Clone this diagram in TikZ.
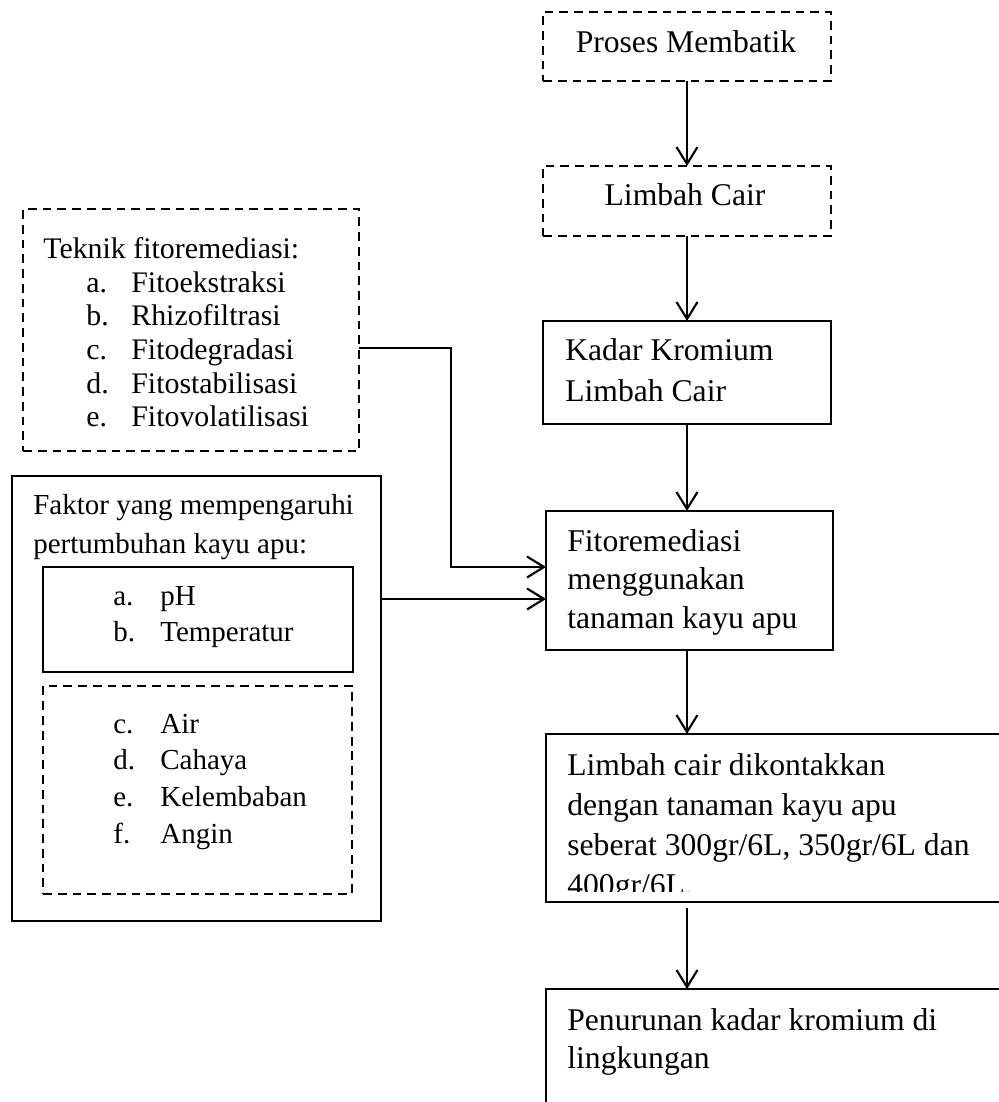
\documentclass[tikz,border=0pt]{standalone}
\usepackage{fontspec}
\setmainfont{Liberation Serif}
\usetikzlibrary{arrows.meta}

\begin{document}
\begin{tikzpicture}[x=0.02cm,y=-0.02cm,
  size/.style 2 args={minimum width=#1*0.02cm,minimum height=#2*0.02cm},
  frame/.style={draw,line width=1.2pt,inner sep=0pt,outer sep=0pt,anchor=north west},
  dashframe/.style={frame,dash pattern=on 5pt off 3.4pt},
  txt/.style={anchor=base west,inner sep=0pt,font=\fontsize{18}{22}\selectfont},
  txtk/.style={txt,font=\fontsize{17}{21}\selectfont},
  txtf/.style={txt,font=\fontsize{16.5}{20}\selectfont},
  arr/.style={line width=1.2pt,-{Straight Barb[length=3.4mm,width=4.2mm,line width=1.2pt]}}]%
  \useasboundingbox (0,0) rectangle (998,1102);

  % right column
  \node[dashframe,size={288}{69}] (proses) at (543,12) {};
  \node[dashframe,size={288}{70}] (limbah) at (543,166) {};
  \node[frame,size={288}{103}] (kadar) at (543,321) {};
  \node[frame,size={287}{139}] (fito) at (546,511) {};
  \node[frame,size={470}{168}] (kontak) at (546,734) {};
  \node[frame,size={470}{140}] (hasil) at (546,989) {};

  \node[txt,anchor=base] (prosesT) at (686,52) {Proses Membatik};
  \node[txt,anchor=base] (limbahT) at (685,205) {Limbah Cair};
  \foreach \t [count=\i] in {Kadar Kromium,Limbah Cair}
    \node[txt] (kadar\i) at (565,{360+41*(\i-1)}) {\t};
  \foreach \t [count=\i] in {Fitoremediasi,menggunakan,tanaman kayu apu}
    \node[txt] (fito\i) at (567,{551+38.5*(\i-1)}) {\t};
  \begin{scope}
    \clip (546,734) rectangle (998,891);
    \foreach \t [count=\i] in {Limbah cair dikontakkan,dengan tanaman kayu apu,
        {seberat 300gr/6L, 350gr/6L dan},400gr/6L.}
      \node[txt] (kontak\i) at (567,{775+40*(\i-1)}) {\t};
  \end{scope}
  \foreach \t [count=\i] in {Penurunan kadar kromium di,lingkungan}
    \node[txt] (hasil\i) at (567,{1030+38*(\i-1)}) {\t};

  % left column
  \node[dashframe,size={336}{242}] (teknik) at (23,209) {};
  \node[txtk] (teknikT) at (43,258) {Teknik fitoremediasi:};
  \foreach \l/\t [count=\i] in {a/Fitoekstraksi,b/Rhizofiltrasi,c/Fitodegradasi,
      d/Fitostabilisasi,e/Fitovolatilisasi} {
    \node[txtk] (teknikL\i) at (86,{292+33.7*(\i-1)}) {\l.};
    \node[txtk] (teknik\i) at (131,{292+33.7*(\i-1)}) {\t};
  }

  \node[frame,size={369}{445}] (faktor) at (12,476) {};
  \node[txtf] (faktor1) at (33,514) {Faktor yang mempengaruhi};
  \node[txtf] (faktor2) at (33,553) {pertumbuhan kayu apu:};
  \node[frame,size={310}{105}] (utama) at (43,567) {};
  \foreach \l/\t [count=\i] in {a/pH,b/Temperatur} {
    \node[txtf] (utamaL\i) at (113,{605+36*(\i-1)}) {\l.};
    \node[txtf] (utama\i) at (160,{605+36*(\i-1)}) {\t};
  }
  \node[dashframe,size={309}{208}] (lain) at (43,686) {};
  \foreach \l/\t [count=\i] in {c/Air,d/Cahaya,e/Kelembaban,f/Angin} {
    \node[txtf] (lainL\i) at (113,{733+36.7*(\i-1)}) {\l.};
    \node[txtf] (lain\i) at (160,{733+36.7*(\i-1)}) {\t};
  }

  % connectors
  \coordinate (in1) at ([yshift=0.27cm]fito.west);
  \coordinate (in2) at ([yshift=-0.37cm]fito.west);
  \coordinate (k1) at (proses.south |- kontak.south);
  \draw[arr] (proses) -- (limbah);
  \draw[arr] (limbah) -- (kadar);
  \draw[arr] (kadar.south) -- (kadar.south |- fito.north);
  \draw[arr] (proses.south |- fito.south) -- (proses.south |- kontak.north);
  \draw[arr] ([yshift=-0.12cm]k1) -- (proses.south |- hasil.north);
  \draw[arr] ([yshift=-0.36cm]teknik.east) -- ++(92,0) |- (in1);
  \draw[arr] (faktor.east |- in2) -- (in2);
\end{tikzpicture}
\end{document}
